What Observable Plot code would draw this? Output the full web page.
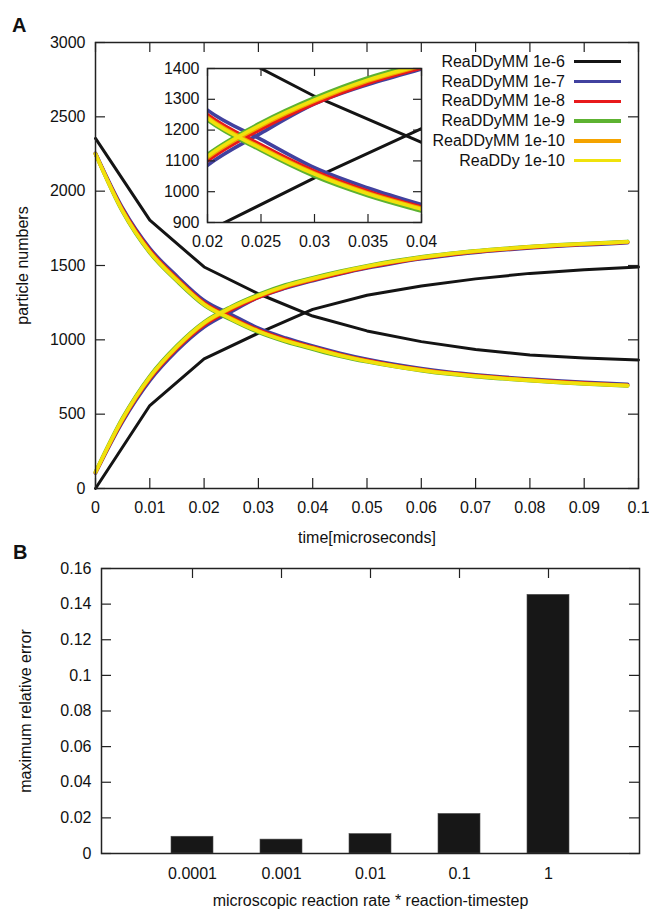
<!DOCTYPE html>
<html><head><meta charset="utf-8">
<script src="https://cdn.jsdelivr.net/npm/d3@7"></script>
<script src="https://cdn.jsdelivr.net/npm/@observablehq/plot@0.6"></script>
<style>
body{margin:0;background:#fff;font-family:"Liberation Sans",Arial,Helvetica,sans-serif;}
#wrap{position:relative;width:649px;height:912px;overflow:hidden;background:#fff;}
.abs{position:absolute;}
.panel{position:absolute;font-weight:bold;font-size:20px;line-height:20px;color:#111;}
.leg-text{position:absolute;font-size:16px;line-height:20px;color:#111;white-space:nowrap;text-align:right;}
.leg-swatch{position:absolute;height:3.5px;}
</style></head><body>
<div id="wrap">
 <div id="main" class="abs" style="left:0;top:0;width:649px;"></div>
 <div id="inset" class="abs" style="left:157px;top:62px;width:276px;"></div>
 <div id="bars" class="abs" style="left:0;top:545px;width:649px;"></div>
 <div class="panel" style="left:12px;top:15px;">A</div>
 <div class="panel" style="left:13px;top:542px;">B</div>
</div>
<script>
// ---------- Panel A data ----------
const seriesNames = ["ReaDDyMM 1e-6", "ReaDDyMM 1e-7", "ReaDDyMM 1e-8", "ReaDDyMM 1e-9", "ReaDDyMM 1e-10", "ReaDDy 1e-10"];

const timeCoarse = [0, 0.01, 0.02, 0.03, 0.04, 0.05, 0.06, 0.07, 0.08, 0.09, 0.1];
const timeFine = [0, 0.005, 0.01, 0.015, 0.02, 0.025, 0.03, 0.035, 0.04, 0.045, 0.05, 0.055, 0.06, 0.065, 0.07, 0.075, 0.08, 0.085, 0.09, 0.095, 0.098];

const decay_1e6 = [2355, 1805, 1490, 1310, 1160, 1060, 988, 935, 898, 878, 865];
const rise_1e6  = [0, 558, 872, 1045, 1205, 1300, 1362, 1410, 1447, 1472, 1490];

const decay_1e7 = [2255, 1885, 1615, 1428, 1265, 1170, 1078, 1012, 958, 910, 869, 835, 807, 784, 765, 749, 736, 724, 714, 706, 701];
const rise_1e7  = [104, 450, 725, 928, 1086, 1190, 1285, 1348, 1398, 1443, 1483, 1516, 1545, 1568, 1588, 1604, 1618, 1630, 1639, 1647, 1653];

const decay_1e8 = [2252, 1875, 1603, 1413, 1250, 1152, 1067, 1002, 950, 902, 862, 828, 801, 778, 760, 744, 731, 719, 709, 700, 695];
const rise_1e8  = [106, 460, 738, 942, 1100, 1203, 1286, 1352, 1402, 1447, 1487, 1520, 1549, 1572, 1592, 1608, 1622, 1634, 1643, 1651, 1657];

const decay_1e9 = [2250, 1860, 1584, 1394, 1232, 1134, 1050, 987, 937, 890, 852, 820, 793, 770, 752, 738, 725, 713, 703, 695, 690];
const rise_1e9  = [112, 476, 757, 962, 1121, 1224, 1305, 1370, 1418, 1461, 1499, 1531, 1558, 1580, 1599, 1614, 1628, 1639, 1648, 1656, 1662];

const decay_1e10 = [2250, 1868, 1594, 1405, 1242, 1144, 1060, 996, 946, 898, 858, 825, 798, 775, 757, 742, 728, 716, 706, 698, 693];
const rise_1e10  = [108, 467, 746, 950, 1110, 1213, 1294, 1359, 1408, 1453, 1492, 1525, 1553, 1576, 1595, 1611, 1625, 1636, 1645, 1653, 1659];

const decay_readdy = [2250, 1865, 1590, 1400, 1238, 1140, 1057, 993, 943, 895, 856, 823, 796, 773, 755, 740, 727, 715, 705, 697, 692];
const rise_readdy  = [110, 470, 750, 955, 1115, 1218, 1298, 1363, 1412, 1456, 1495, 1527, 1555, 1578, 1597, 1612, 1626, 1637, 1646, 1654, 1660];

const xTicksMain = [0, 0.01, 0.02, 0.03, 0.04, 0.05, 0.06, 0.07, 0.08, 0.09, 0.1];
const yTicksMain = [0, 500, 1000, 1500, 2000, 2500, 3000];
const xTicksInset = [0.02, 0.025, 0.03, 0.035, 0.04];
const yTicksInset = [900, 1000, 1100, 1200, 1300, 1400];
const xLabelMain = "time[microseconds]";
const yLabelMain = "particle numbers";

// ---------- Panel B data ----------
const rateLabels = ["0.0001", "0.001", "0.01", "0.1", "1"];
const maxRelError = [0.0094, 0.0078, 0.0109, 0.0222, 0.1452];
const yTicksBars = [0, 0.02, 0.04, 0.06, 0.08, 0.1, 0.12, 0.14, 0.16];
const xLabelBars = "microscopic reaction rate * reaction-timestep";
const yLabelBars = "maximum relative error";

// ---------- styles ----------
const seriesColors = ["#141414", "#41419f", "#e8191b", "#5db231", "#f4a300", "#f0e20c"];
const font = '"Liberation Sans", Arial, Helvetica, sans-serif';
const baseStyle = {fontFamily: font, fontSize: "16px", color: "#111", background: "transparent", overflow: "visible"};
const axisStroke = "#222";

const seriesTimes = [timeCoarse, timeFine, timeFine, timeFine, timeFine, timeFine];
const seriesDecay = [decay_1e6, decay_1e7, decay_1e8, decay_1e9, decay_1e10, decay_readdy];
const seriesRise = [rise_1e6, rise_1e7, rise_1e8, rise_1e9, rise_1e10, rise_readdy];
const rows = (times, vals) => times.map((t, j) => ({t, v: vals[j]}));

function curveMarks(clip) {
  const m = [];
  seriesNames.forEach((name, i) => {
    const opts = {x: "t", y: "v", stroke: seriesColors[i], strokeWidth: i === 0 ? 3 : 3.6,
      curve: i === 0 ? "linear" : "monotone-x", clip, strokeLinejoin: "round"};
    m.push(Plot.line(rows(seriesTimes[i], seriesDecay[i]), opts));
    m.push(Plot.line(rows(seriesTimes[i], seriesRise[i]), opts));
  });
  return m;
}

function tickMarks(xt, yt, fw, fh, len, xTop, xBottom) {
  const o = {stroke: axisStroke, strokeWidth: 1.2};
  const m = [];
  if (xBottom) m.push(Plot.tickX(xt, {x: d => d, insetTop: fh - len, ...o}));
  if (xTop) m.push(Plot.tickX(xt, {x: d => d, insetBottom: fh - len, ...o}));
  m.push(Plot.tickY(yt, {y: d => d, insetRight: fw - len, ...o}));
  m.push(Plot.tickY(yt, {y: d => d, insetLeft: fw - len, ...o}));
  return m;
}

const labelX = (s, dy) => Plot.text([s], {text: d => d, frameAnchor: "bottom", dy, textAnchor: "middle", lineAnchor: "middle"});
const labelY = (s, dx) => Plot.text([s], {text: d => d, frameAnchor: "left", dx, rotate: -90, textAnchor: "middle", lineAnchor: "middle"});

// ---------- main plot ----------
{
  const W = 649, H = 545, mL = 95, mR = 11, mT = 42, mB = 57;
  const fw = W - mL - mR, fh = H - mT - mB;
  const chart = Plot.plot({
    width: W, height: H, marginLeft: mL, marginRight: mR, marginTop: mT, marginBottom: mB,
    x: {domain: [0, 0.1]}, y: {domain: [0, 3000]},
    style: baseStyle,
    marks: [
      ...curveMarks(false),
      ...tickMarks(xTicksMain, yTicksMain, fw, fh, 10, true, true),
      Plot.frame({stroke: axisStroke, strokeWidth: 1.5}),
      Plot.axisX(xTicksMain, {tickSize: 0, tickPadding: 13, tickFormat: d => String(d), label: null}),
      Plot.axisY(yTicksMain, {tickSize: 0, tickPadding: 10, tickFormat: d => String(d), label: null}),
      labelX(xLabelMain, 49),
      labelY(yLabelMain, -73)
    ]
  });
  document.getElementById("main").appendChild(chart);
}

// ---------- inset ----------
{
  const W = 276, H = 192, mL = 50, mR = 12, mT = 6, mB = 32;
  const fw = W - mL - mR, fh = H - mT - mB;
  const chart = Plot.plot({
    width: W, height: H, marginLeft: mL, marginRight: mR, marginTop: mT, marginBottom: mB,
    x: {domain: [0.02, 0.04]}, y: {domain: [900, 1400]},
    style: baseStyle,
    marks: [
      Plot.frame({fill: "white", stroke: "none"}),
      ...curveMarks(true),
      ...tickMarks(xTicksInset, yTicksInset, fw, fh, 8, true, true),
      Plot.frame({stroke: axisStroke, strokeWidth: 1.5}),
      Plot.axisX(xTicksInset, {tickSize: 0, tickPadding: 13, tickFormat: d => String(d), label: null}),
      Plot.axisY(yTicksInset, {tickSize: 0, tickPadding: 8, tickFormat: d => String(d), label: null})
    ]
  });
  document.getElementById("inset").appendChild(chart);
}

// ---------- legend ----------
{
  const wrap = document.getElementById("wrap");
  seriesNames.forEach((name, i) => {
    const y = 61.7 + 19.8 * i;
    const t = document.createElement("div");
    t.className = "leg-text";
    t.style.right = (649 - 565) + "px";
    t.style.top = (y - 10) + "px";
    t.textContent = name;
    wrap.appendChild(t);
    const s = document.createElement("div");
    s.className = "leg-swatch";
    s.style.left = "574px";
    s.style.width = "47px";
    s.style.top = (y - 1.75) + "px";
    s.style.background = seriesColors[i];
    wrap.appendChild(s);
  });
}

// ---------- bars ----------
{
  const W = 649, H = 367, mL = 101, mR = 10, mT = 23, mB = 59;
  const fw = W - mL - mR, fh = H - mT - mB;
  const chart = Plot.plot({
    width: W, height: H, marginLeft: mL, marginRight: mR, marginTop: mT, marginBottom: mB,
    x: {type: "band", domain: rateLabels, paddingInner: 0.532, paddingOuter: 0.766},
    y: {domain: [0, 0.16]},
    style: baseStyle,
    marks: [
      Plot.barY(rateLabels.map((r, i) => ({rate: r, err: maxRelError[i]})),
        {x: "rate", y: "err", fill: "#171717", stroke: "#4a4a4a", strokeWidth: 0.6}),
      ...tickMarks(rateLabels, yTicksBars, fw, fh, 10, true, false),
      Plot.frame({stroke: axisStroke, strokeWidth: 1.5}),
      Plot.axisX({tickSize: 0, tickPadding: 14, label: null}),
      Plot.axisY(yTicksBars, {tickSize: 0, tickPadding: 10, tickFormat: d => String(d), label: null}),
      labelX(xLabelBars, 47),
      labelY(yLabelBars, -76)
    ]
  });
  document.getElementById("bars").appendChild(chart);
}
</script>
</body></html>
